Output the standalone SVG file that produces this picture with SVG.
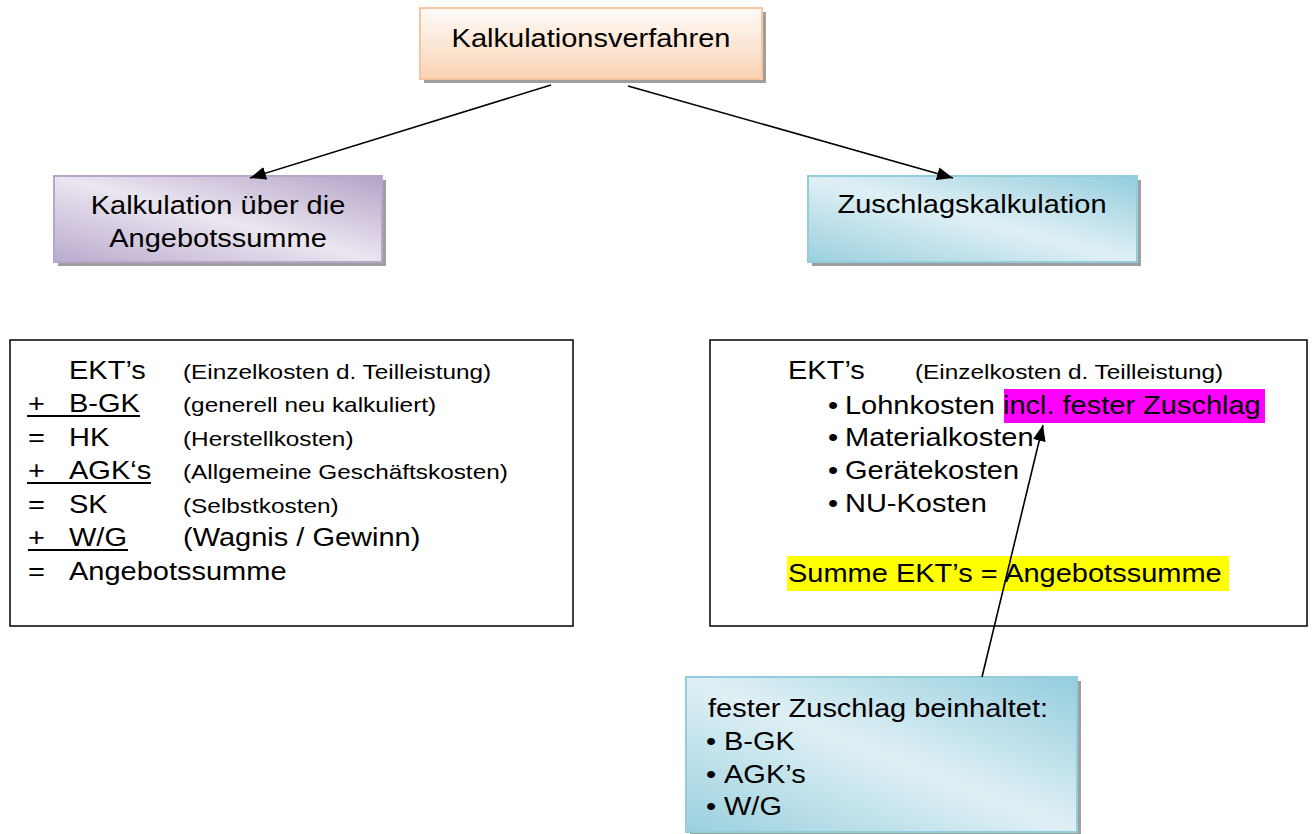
<svg xmlns="http://www.w3.org/2000/svg" width="1313" height="834" viewBox="0 0 1313 834">
  <style>
    .t { font-family: "Liberation Sans", Arial, sans-serif; font-size: 25px; fill: #000; }
    .s { font-size: 21px; }
    .c { text-anchor: middle; }
    .box { fill: #fff; stroke: #000; stroke-width: 1.5; }
    .shadow { fill: #7f7f7f; opacity: 0.75; }
    .conn { stroke: #000; stroke-width: 1.6; fill: none; marker-end: url(#arrow); }
    .ul { stroke: #000; stroke-width: 2.2; }
  </style>
  <defs>
    <marker id="arrow" markerUnits="userSpaceOnUse" markerWidth="17" markerHeight="13" refX="16" refY="6.5" orient="auto">
      <path d="M0,0 L16,6.5 L0,13 z" fill="#000"/>
    </marker>
    <linearGradient id="gOrange" x1="0" y1="0" x2="0" y2="1">
      <stop offset="0" stop-color="#fefbf8"/>
      <stop offset="1" stop-color="#fad3b4"/>
    </linearGradient>
    <linearGradient id="gPurple" x1="0" y1="1" x2="1" y2="0">
      <stop offset="0" stop-color="#b9aace"/>
      <stop offset="0.5" stop-color="#ebe6f0"/>
      <stop offset="1" stop-color="#b3a2c7"/>
    </linearGradient>
    <linearGradient id="gBlue" x1="0" y1="1" x2="1" y2="0">
      <stop offset="0" stop-color="#9ad0de"/>
      <stop offset="0.5" stop-color="#dff0f5"/>
      <stop offset="1" stop-color="#93cddd"/>
    </linearGradient>
  </defs>

  <!-- root node -->
  <g id="kalkulationsverfahren">
    <rect class="shadow" x="424" y="12" width="342" height="71"/>
    <rect x="420" y="8" width="342" height="71" fill="url(#gOrange)" stroke="#f8c69c" stroke-width="2"/>
    <text class="t c" transform="translate(591 47) scale(1.16 1)">Kalkulationsverfahren</text>
  </g>

  <!-- left branch heading -->
  <g id="angebotssumme-node">
    <rect class="shadow" x="58" y="180" width="328" height="86"/>
    <rect x="54" y="176" width="328" height="86" fill="url(#gPurple)" stroke="#b6a6cb" stroke-width="2"/>
    <text class="t c" transform="translate(218 214) scale(1.16 1)">Kalkulation über die</text>
    <text class="t c" transform="translate(218 247) scale(1.16 1)">Angebotssumme</text>
  </g>

  <!-- right branch heading -->
  <g id="zuschlagskalkulation-node">
    <rect class="shadow" x="812" y="180" width="329" height="86"/>
    <rect x="808" y="176" width="329" height="86" fill="url(#gBlue)" stroke="#93cddd" stroke-width="2"/>
    <text class="t c" transform="translate(972 213) scale(1.16 1)">Zuschlagskalkulation</text>
  </g>

  <!-- calculation scheme, left -->
  <g id="schema-angebotssumme">
    <rect class="box" x="10" y="340" width="563" height="286"/>
    <text class="t" transform="translate(69 379) scale(1.16 1)">EKT’s</text>
    <text class="t s" transform="translate(183 379) scale(1.16 1)">(Einzelkosten d. Teilleistung)</text>

    <text class="t" transform="translate(28 412) scale(1.16 1)">+</text>
    <text class="t" transform="translate(69 412) scale(1.16 1)">B-GK</text>
    <line class="ul" x1="27" y1="416" x2="140" y2="416"/>
    <text class="t s" transform="translate(183 412) scale(1.16 1)">(generell neu kalkuliert)</text>

    <text class="t" transform="translate(28 446) scale(1.16 1)">=</text>
    <text class="t" transform="translate(69 446) scale(1.16 1)">HK</text>
    <text class="t s" transform="translate(183 446) scale(1.16 1)">(Herstellkosten)</text>

    <text class="t" transform="translate(28 479) scale(1.16 1)">+</text>
    <text class="t" transform="translate(69 479) scale(1.16 1)">AGK‘s</text>
    <line class="ul" x1="27" y1="483" x2="151" y2="483"/>
    <text class="t s" transform="translate(183 479) scale(1.16 1)">(Allgemeine Geschäftskosten)</text>

    <text class="t" transform="translate(28 513) scale(1.16 1)">=</text>
    <text class="t" transform="translate(69 513) scale(1.16 1)">SK</text>
    <text class="t s" transform="translate(183 513) scale(1.16 1)">(Selbstkosten)</text>

    <text class="t" transform="translate(28 546) scale(1.16 1)">+</text>
    <text class="t" transform="translate(69 546) scale(1.16 1)">W/G</text>
    <line class="ul" x1="28" y1="550" x2="128" y2="550"/>
    <text class="t" transform="translate(183 546) scale(1.16 1)">(Wagnis / Gewinn)</text>

    <text class="t" transform="translate(28 580) scale(1.16 1)">=</text>
    <text class="t" transform="translate(69 580) scale(1.16 1)">Angebotssumme</text>
  </g>

  <!-- calculation scheme, right -->
  <g id="schema-zuschlag">
    <rect class="box" x="710" y="340" width="597" height="286"/>
    <rect x="1004" y="389" width="261" height="34" fill="#ff00ff"/>
    <rect x="787" y="556" width="442" height="35" fill="#ffff00"/>
    <text class="t" transform="translate(788 379) scale(1.16 1)">EKT’s</text>
    <text class="t s" transform="translate(915 379) scale(1.16 1)">(Einzelkosten d. Teilleistung)</text>
    <text class="t" transform="translate(828 414) scale(1.16 1)">•</text>
    <text class="t" transform="translate(845 414) scale(1.16 1)">Lohnkosten <tspan>incl. fester Zuschlag</tspan></text>
    <text class="t" transform="translate(828 446) scale(1.16 1)">•</text>
    <text class="t" transform="translate(845 446) scale(1.16 1)">Materialkosten</text>
    <text class="t" transform="translate(828 479) scale(1.16 1)">•</text>
    <text class="t" transform="translate(845 479) scale(1.16 1)">Gerätekosten</text>
    <text class="t" transform="translate(828 512) scale(1.16 1)">•</text>
    <text class="t" transform="translate(845 512) scale(1.16 1)">NU-Kosten</text>
    <text class="t" transform="translate(788 582) scale(1.16 1)">Summe EKT’s = Angebotssumme</text>
  </g>

  <!-- note on the fixed surcharge -->
  <g id="fester-zuschlag">
    <rect class="shadow" x="690" y="681" width="391" height="157"/>
    <rect x="686" y="677" width="391" height="155" fill="url(#gBlue)" stroke="#93cddd" stroke-width="2"/>
    <text class="t" transform="translate(708 717) scale(1.16 1)">fester Zuschlag beinhaltet:</text>
    <text class="t" transform="translate(706 750) scale(1.16 1)">•</text>
    <text class="t" transform="translate(724 750) scale(1.16 1)">B-GK</text>
    <text class="t" transform="translate(706 783) scale(1.16 1)">•</text>
    <text class="t" transform="translate(724 783) scale(1.16 1)">AGK’s</text>
    <text class="t" transform="translate(706 815) scale(1.16 1)">•</text>
    <text class="t" transform="translate(724 815) scale(1.16 1)">W/G</text>
  </g>

  <!-- connectors, drawn last so they cross over the boxes -->
  <g id="connectors">
    <line class="conn" x1="551" y1="85" x2="250" y2="178"/>
    <line class="conn" x1="628" y1="86" x2="953" y2="178"/>
    <line class="conn" x1="982" y1="677" x2="1043" y2="425"/>
  </g>
</svg>
